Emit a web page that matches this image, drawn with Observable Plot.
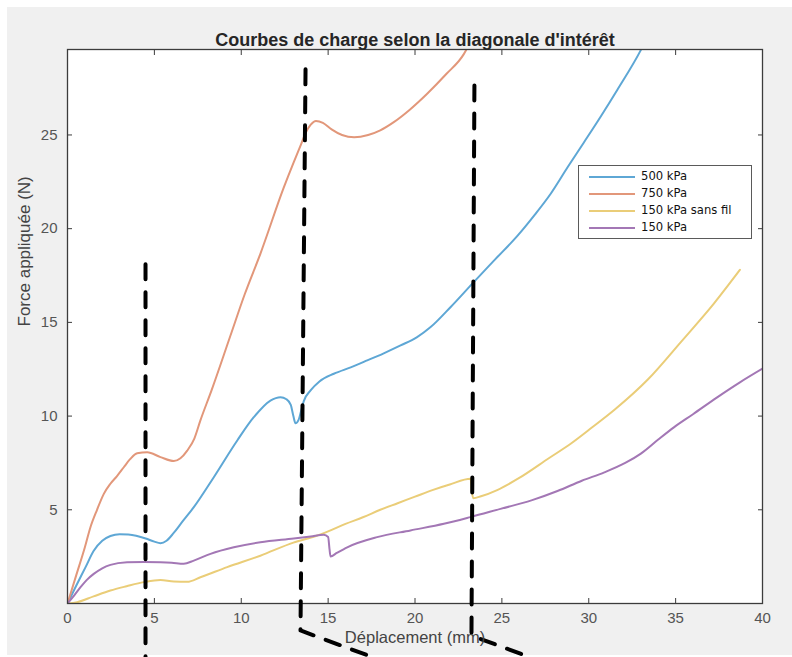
<!DOCTYPE html>
<html>
<head>
<meta charset="utf-8">
<script src="https://cdn.jsdelivr.net/npm/d3@7"></script>
<script src="https://cdn.jsdelivr.net/npm/@observablehq/plot@0.6"></script>
<style>
  html, body { margin: 0; padding: 0; background: #ffffff; }
  #wrap { position: relative; padding: 7px 0 0 7px; width: 785px; height: 650px; }
  #legend {
    position: absolute; left: 578px; top: 165px; width: 174px; height: 74px;
    box-sizing: border-box; border: 1.6px solid #5a5a5a; background: #fff;
    font-family: "DejaVu Sans", sans-serif; font-size: 11.6px; color: #111;
    padding-top: 2px;
  }
  #legend .row { height: 17px; line-height: 17px; display: flex; align-items: center; white-space: nowrap; }
  #legend .sw { display: inline-block; width: 46px; height: 2px; margin-left: 10px; margin-right: 6px; }
</style>
</head>
<body>
<div id="wrap"><div id="legend"></div></div>
<script>
// ---- Data ----
const title = "Courbes de charge selon la diagonale d'intérêt";
const xLabel = "Déplacement (mm)";
const yLabel = "Force appliquée (N)";
const xTicks = [0, 5, 10, 15, 20, 25, 30, 35, 40];
const yTicks = [5, 10, 15, 20, 25];
const xDomain = [0, 40];
const yDomain = [0, 29.56];

const seriesNames = ["500 kPa", "750 kPa", "150 kPa sans fil", "150 kPa"];
const seriesColors = ["#5ea7d5", "#e2977a", "#eacd78", "#a377b5"];

// [déplacement (mm), force (N)]
const s500 = [
  [0,0],[0.5,0.95],[1.04,1.94],[1.5,2.8],[2.0,3.35],[2.47,3.6],[3.0,3.7],[3.5,3.68],
  [4.5,3.47],[5.0,3.3],[5.35,3.22],[5.7,3.35],[6.1,3.75],[6.6,4.35],[7.27,5.14],
  [8.42,6.74],[9.77,8.7],[10.72,9.94],[11.68,10.83],[12.26,11.01],[12.6,10.9],
  [12.85,10.6],[13.0,10.0],[13.12,9.62],[13.3,9.8],[13.45,10.3],[13.6,10.8],
  [13.99,11.37],[14.5,11.85],[15.33,12.26],[16.3,12.6],[17.25,12.97],[18.2,13.35],
  [19.17,13.77],[20.1,14.2],[20.9,14.75],[22.04,15.81],[23.38,17.15],[24.6,18.35],
  [25.88,19.6],[26.9,20.75],[27.8,21.85],[28.8,23.3],[29.72,24.6],[30.7,26.0],
  [31.64,27.4],[32.98,29.5],[33.2,29.9]
];
const s750 = [
  [0,0],[0.5,1.5],[1.0,3.0],[1.32,4.07],[1.7,5.0],[2.09,5.85],[2.47,6.39],[2.85,6.8],
  [3.24,7.27],[3.6,7.7],[4.01,8.02],[4.59,8.07],[5.35,7.81],[6.12,7.6],[6.5,7.75],
  [6.89,8.16],[7.3,8.8],[7.65,9.77],[8.3,11.4],[9.38,14.3],[10.2,16.5],[11.1,18.66],
  [12.45,22.2],[13.0,23.5],[13.4,24.4],[13.7,25.1],[14.0,25.55],[14.3,25.75],
  [14.7,25.65],[15.2,25.3],[15.8,25.0],[16.5,24.88],[17.3,25.0],[18.0,25.25],
  [18.8,25.7],[19.7,26.35],[20.7,27.2],[21.8,28.25],[22.8,29.3],[23.1,29.8]
];
const s150sf = [
  [0,0],[0.56,0.07],[1.5,0.38],[2.47,0.69],[3.4,0.92],[4.39,1.14],[5.35,1.26],
  [6.12,1.17],[6.89,1.16],[7.65,1.4],[9.19,1.94],[11.1,2.55],[13.0,3.25],[14.3,3.6],
  [15.0,3.85],[16.0,4.25],[17.0,4.6],[18.0,5.0],[19.0,5.35],[20.0,5.7],[21.0,6.05],
  [22.0,6.35],[23.2,6.65],[23.27,6.0],[23.35,5.62],[23.8,5.72],[24.73,6.05],
  [26.0,6.7],[27.7,7.75],[29.0,8.55],[30.2,9.4],[31.5,10.35],[33.4,11.95],
  [35.3,13.95],[37.2,16.0],[38.7,17.8]
];
const s150 = [
  [0,0],[0.4,0.45],[0.75,0.87],[1.1,1.25],[1.51,1.58],[2.0,1.88],[2.47,2.06],
  [3.43,2.2],[4.4,2.22],[5.35,2.2],[6.0,2.17],[6.69,2.12],[7.27,2.29],[8.23,2.65],
  [9.57,3.0],[11.1,3.27],[13.02,3.47],[14.0,3.58],[14.75,3.67],[15.0,3.55],
  [15.08,2.9],[15.14,2.51],[15.5,2.7],[16.1,3.0],[17.82,3.54],[19.74,3.9],
  [21.66,4.25],[23.19,4.61],[24.92,5.05],[26.7,5.5],[28.2,6.0],[29.6,6.55],
  [30.9,7.0],[32.1,7.5],[33.0,8.0],[34.0,8.75],[34.9,9.4],[36.0,10.1],
  [37.39,11.0],[38.7,11.8],[39.98,12.52]
];
const seriesData = [s500, s750, s150sf, s150];

// dashed annotation lines drawn over the chart (data units)
const annot1 = [[4.49,18.1],[4.49,-2.9]];
const annot2 = [[13.7,28.5],[13.41,-1.44],[17.61,-2.88]];
const annot3 = [[23.42,27.64],[23.25,-1.71],[26.65,-2.88]];
const annots = [annot1, annot2, annot3];

// ---- Build tables ----
const rows = seriesData.flatMap((pts, i) => pts.map(([x, y]) => ({x, y, series: seriesNames[i]})));
const annotRows = annots.flatMap((pts, i) => pts.map(([x, y]) => ({x, y, id: i})));

const font = "'Liberation Sans', Arial, Helvetica, sans-serif";

const chart = Plot.plot({
  width: 785,
  height: 648,
  marginLeft: 60,
  marginRight: 30,
  marginTop: 42,
  marginBottom: 52,
  style: {background: "#f0f0f0", overflow: "visible", fontFamily: font},
  x: {domain: xDomain},
  y: {domain: yDomain},
  color: {domain: seriesNames, range: seriesColors},
  marks: [
    Plot.frame({fill: "white", stroke: null}),
    Plot.line(rows, {x: "x", y: "y", z: "series", stroke: "series", strokeWidth: 2, curve: "monotone-x", clip: true}),
    Plot.frame({stroke: "#3c3c3c", strokeWidth: 1.3}),
    Plot.axisX({anchor: "bottom", ticks: xTicks, tickSize: -5, tickPadding: 14, fontSize: 15, stroke: "#3c3c3c", fill: "#555", label: null}),
    Plot.axisX({anchor: "top", ticks: xTicks, tickSize: -5, tickFormat: () => "", stroke: "#3c3c3c", label: null}),
    Plot.axisY({anchor: "left", ticks: yTicks, tickSize: -5, tickPadding: 15, fontSize: 15, stroke: "#3c3c3c", fill: "#555", label: null}),
    Plot.axisY({anchor: "right", ticks: yTicks, tickSize: -5, tickFormat: () => "", stroke: "#3c3c3c", label: null}),
    Plot.line(annotRows, {x: "x", y: "y", z: "id", stroke: "black", strokeWidth: 4, strokeDasharray: "15,13"}),
    Plot.text([title], {frameAnchor: "top", dy: -16, fontSize: 18, fontWeight: "bold", fill: "#262626"}),
    Plot.text([xLabel], {frameAnchor: "bottom", dy: 39, fontSize: 16.5, fill: "#444"}),
    Plot.text([yLabel], {frameAnchor: "left", dx: -43, rotate: -90, fontSize: 17, fill: "#444"})
  ]
});
document.getElementById("wrap").prepend(chart);

// legend
const legend = d3.select("#legend");
seriesNames.forEach((name, i) => {
  const row = legend.append("div").attr("class", "row");
  row.append("span").attr("class", "sw").style("background", seriesColors[i]);
  row.append("span").text(name);
});
</script>
</body>
</html>
